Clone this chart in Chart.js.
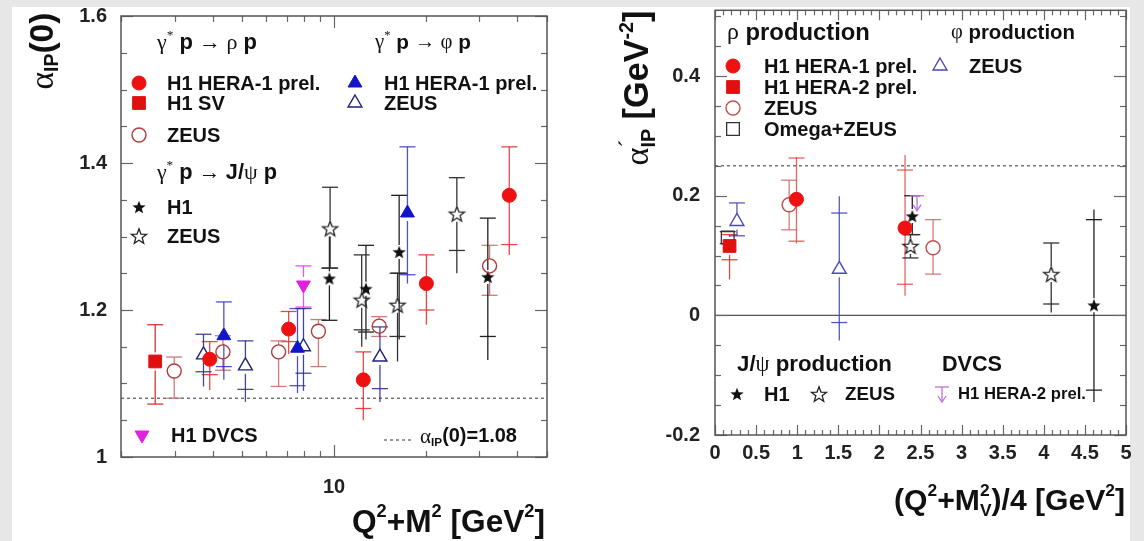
<!DOCTYPE html>
<html><head><meta charset="utf-8"><title>Pomeron trajectory parameters</title>
<script src="https://cdn.jsdelivr.net/npm/chart.js@4.4.1/dist/chart.umd.min.js"></script>
<style>
html,body{margin:0;padding:0;}
body{width:1144px;height:541px;background:#e7e7e7;position:relative;overflow:hidden}
#paper{position:absolute;left:12px;top:7px;width:1118px;height:534px;background:#fff}
canvas{position:absolute;top:0}
</style></head>
<body>
<div id="paper"></div>
<canvas id="cL" width="572" height="541" style="left:0px"></canvas>
<canvas id="cR" width="572" height="541" style="left:572px"></canvas>
<script>
// ================= DATA : left panel  alpha_IP(0) vs Q2+M2 =================
const leftXTicks  = [2,3,4,5,6,7,8,9,10,20,30,40,50];
const leftXLabels = ['10'];
const leftYLabels = ['1','1.2','1.4','1.6'];
const leftRef     = [1.08];

// gamma* p -> rho p : H1 HERA-1 prel.
const rhoH1_x   = [3.91, 7.10, 12.48, 20.1, 37.6];
const rhoH1_y   = [1.133, 1.174, 1.105, 1.236, 1.356];
const rhoH1_lo  = [1.091, 1.140, 1.050, 1.180, 1.275];
const rhoH1_hi  = [1.157, 1.198, 1.143, 1.275, 1.422];
const rhoH1_tlo = [1.112, 1.157, 1.066, 1.200, 1.289];
// gamma* p -> rho p : H1 SV
const rhoSV_x  = [2.59];
const rhoSV_y  = [1.130];
const rhoSV_lo = [1.072];
const rhoSV_hi = [1.180];
// gamma* p -> rho p : ZEUS
const rhoZ_x  = [2.99, 4.32, 6.58, 8.89, 14.07, 32.4];
const rhoZ_y  = [1.117, 1.143, 1.143, 1.171, 1.178, 1.260];
const rhoZ_lo = [1.080, 1.118, 1.096, 1.123, 1.164, 1.220];
const rhoZ_hi = [1.136, 1.165, 1.158, 1.187, 1.191, 1.288];
// gamma* p -> phi p : H1 HERA-1 prel.
const phiH1_x   = [4.35, 7.59, 17.42];
const phiH1_y   = [1.165, 1.148, 1.332];
const phiH1_lo  = [1.105, 1.087, 1.236];
const phiH1_hi  = [1.211, 1.202, 1.422];
const phiH1_tlo = [1.123, 1.097, 1.248];
// gamma* p -> phi p : ZEUS
const phiZ_x   = [3.73, 5.12, 7.94, 14.15];
const phiZ_y   = [1.139, 1.124, 1.150, 1.136];
const phiZ_lo  = [1.096, 1.075, 1.090, 1.075];
const phiZ_hi  = [1.167, 1.158, 1.202, 1.177];
const phiZ_tlo = [1.116, 1.092, 1.114, 1.093];
// gamma* p -> J/psi p : H1
const jpH1_x   = [9.66, 12.73, 16.36, 31.97];
const jpH1_y   = [1.243, 1.229, 1.279, 1.245];
const jpH1_lo  = [1.186, 1.160, 1.160, 1.132];
const jpH1_hi  = [1.300, 1.288, 1.356, 1.325];
const jpH1_tlo = [1.186, 1.170, 1.250, 1.164];
const jpH1_thi = [1.257, 1.288, 1.356, 1.325];
// gamma* p -> J/psi p : ZEUS
const jpZ_x   = [9.71, 12.33, 16.16, 25.3];
const jpZ_y   = [1.311, 1.214, 1.207, 1.331];
const jpZ_lo  = [1.257, 1.150, 1.130, 1.250];
const jpZ_hi  = [1.367, 1.275, 1.250, 1.380];
const jpZ_tlo = [1.257, 1.173, 1.164, 1.281];
// H1 DVCS
const dvcs_x  = [7.94];
const dvcs_y  = [1.234];
const dvcs_lo = [1.204];
const dvcs_hi = [1.260];

// ================= DATA : right panel  alpha'_IP vs (Q2+M2)/4 =================
const rightXLabels = ['0','0.5','1','1.5','2','2.5','3','3.5','4','4.5','5'];
const rightYLabels = ['-0.2','0','0.2','0.4'];
const rightDashed  = [0.25];
const rightSolid   = [0];

// rho : H1 HERA-1 prel.
const rRhoH1_x   = [0.991, 2.312];
const rRhoH1_y   = [0.194, 0.146];
const rRhoH1_lo  = [0.120, 0.033];
const rRhoH1_hi  = [0.265, 0.268];
const rRhoH1_tlo = [0.124, 0.052];
const rRhoH1_thi = [0.263, 0.243];
// rho : H1 HERA-2 prel.
const rRhoH2_x   = [0.177];
const rRhoH2_y   = [0.116];
const rRhoH2_lo  = [0.060];
const rRhoH2_hi  = [0.135];
const rRhoH2_tlo = [0.093];
// rho : ZEUS
const rRhoZ_x  = [0.902, 2.653];
const rRhoZ_y  = [0.185, 0.113];
const rRhoZ_lo = [0.143, 0.069];
const rRhoZ_hi = [0.226, 0.160];
// rho : Omega+ZEUS
const rOmZ_x  = [0.155];
const rOmZ_y  = [0.130];
const rOmZ_lo = [0.120];
const rOmZ_hi = [0.140];
// phi : ZEUS
const rPhiZ_x   = [0.267, 1.512];
const rPhiZ_y   = [0.157, 0.077];
const rPhiZ_lo  = [0.133, -0.042];
const rPhiZ_hi  = [0.188, 0.199];
const rPhiZ_tlo = [0.133, -0.012];
const rPhiZ_thi = [0.188, 0.171];
// J/psi : H1
const rJpH1_x   = [2.40, 4.61];
const rJpH1_y   = [0.166, 0.017];
const rJpH1_lo  = [0.135, -0.145];
const rJpH1_hi  = [0.200, 0.177];
const rJpH1_tlo = [0.135, -0.125];
const rJpH1_thi = [0.200, 0.160];
// J/psi : ZEUS
const rJpZ_x   = [2.378, 4.09];
const rJpZ_y   = [0.116, 0.069];
const rJpZ_lo  = [0.096, 0.005];
const rJpZ_hi  = [0.135, 0.121];
const rJpZ_tlo = [0.096, 0.019];
// DVCS : H1 HERA-2 prel. (upper limit)
const rDvcs_x = [2.458];
const rDvcs_y = [0.200];

// ================= helpers =================
const SANS  = '"Liberation Sans", Arial, Helvetica, sans-serif';
const SERIF = '"Liberation Serif", "DejaVu Serif", serif';
Chart.defaults.font.family = SANS;

const pts = (xs, ys) => xs.map((x, i) => ({x, y: ys[i]}));
const fmt = v => String(+(+v).toFixed(3));

function starImg(r, filled, color) {
  const s = Math.ceil(r * 2 + 4);
  const c = document.createElement('canvas'); c.width = s; c.height = s;
  const g = c.getContext('2d');
  g.translate(s / 2, s / 2 + r * 0.1);
  g.beginPath();
  for (let i = 0; i < 10; i++) {
    const rr = i % 2 ? r * 0.42 : r;
    const a = -Math.PI / 2 + i * Math.PI / 5;
    g.lineTo(rr * Math.cos(a), rr * Math.sin(a));
  }
  g.closePath();
  if (filled) { g.fillStyle = color; g.fill(); }
  else { g.lineWidth = 1.3; g.strokeStyle = color; g.stroke(); }
  return c;
}
const STAR_F = starImg(7, true, '#111');
const STAR_O = starImg(8, false, '#222');

// rich text: segments with own font/size/offset; optional fit-to-width
function rich(ctx, segs, x, y, o) {
  o = Object.assign({align: 'left', rot: 0, fit: 0, color: '#111'}, o || {});
  let k = 1;
  const font = s => `${s.w || 'bold'} ${(s.s * k).toFixed(2)}px ${s.f || SANS}`;
  const layout = () => {
    let cx = 0, prevX = 0, prevW = 0; const out = [];
    for (const s of segs) {
      ctx.font = font(s);
      const mw = ctx.measureText(s.t).width;
      if (s.stack) { out.push([s, prevX]); cx = Math.max(prevX + prevW, prevX + mw); prevW = Math.max(prevW, mw); }
      else { out.push([s, cx]); prevX = cx; prevW = mw; cx += mw; }
    }
    return {W: cx, out};
  };
  let L = layout();
  if (o.fit) { k = o.fit / L.W; L = layout(); }
  ctx.save();
  ctx.translate(x, y); ctx.rotate(o.rot);
  const off = o.align === 'center' ? -L.W / 2 : o.align === 'right' ? -L.W : 0;
  ctx.textBaseline = 'middle'; ctx.textAlign = 'left';
  for (const [s, sx] of L.out) {
    ctx.font = font(s); ctx.fillStyle = s.c || o.color;
    ctx.fillText(s.t, off + sx, (s.dy || 0) * k);
  }
  ctx.restore();
}
const B  = (t, s = 20) => ({t, s, w: 'bold', f: SANS});
const G  = (t, s = 20) => ({t, s, w: 'normal', f: SERIF});
const SP = (t, s = 12, dy = -8, w = 'bold', f = SANS) => ({t, s, dy, w, f});
const SB = (t, s = 12, dy = 6, stack = false) => ({t, s, dy, w: 'bold', f: SANS, stack});

function marker(ctx, ds, x, y) {
  ctx.save();
  ctx.fillStyle = ds.pointBackgroundColor; ctx.strokeStyle = ds.pointBorderColor;
  ctx.lineWidth = ds.pointBorderWidth;
  Chart.helpers.drawPoint(ctx, {pointStyle: ds.pointStyle, radius: ds.pointRadius,
    rotation: ds.pointRotation || 0, borderWidth: ds.pointBorderWidth}, x, y);
  ctx.restore();
}
function limitMark(ctx, x, yTop, color) {
  ctx.save(); ctx.strokeStyle = color; ctx.fillStyle = color; ctx.lineWidth = 1.3;
  ctx.beginPath(); ctx.moveTo(x - 7, yTop); ctx.lineTo(x + 7, yTop); ctx.stroke();
  ctx.beginPath(); ctx.moveTo(x, yTop); ctx.lineTo(x, yTop + 14); ctx.stroke();
  ctx.beginPath(); ctx.moveTo(x - 4, yTop + 9); ctx.lineTo(x, yTop + 15); ctx.lineTo(x + 4, yTop + 9); ctx.stroke();
  ctx.restore();
}

// error bars + upper limits + reference lines (drawn under markers)
const errPlugin = {
  id: 'errbars',
  beforeDatasetsDraw(chart, args, o) {
    const {ctx, chartArea: a, scales: {x, y}} = chart;
    ctx.save();
    (o.dashed || []).forEach(v => {
      const p = y.getPixelForValue(v);
      ctx.strokeStyle = '#333'; ctx.lineWidth = 1; ctx.setLineDash([3, 3]);
      ctx.beginPath(); ctx.moveTo(a.left, p); ctx.lineTo(a.right, p); ctx.stroke();
    });
    ctx.setLineDash([]);
    (o.solid || []).forEach(v => {
      const p = y.getPixelForValue(v);
      ctx.strokeStyle = '#555'; ctx.lineWidth = 1.3;
      ctx.beginPath(); ctx.moveTo(a.left, p); ctx.lineTo(a.right, p); ctx.stroke();
    });
    chart.data.datasets.forEach(ds => {
      const e = ds.err; if (!e) return;
      ctx.strokeStyle = e.color; ctx.lineWidth = 1.3;
      ds.data.forEach((p, i) => {
        const px = x.getPixelForValue(p.x), py = y.getPixelForValue(p.y);
        if (e.limit) { limitMark(ctx, px, py, e.color); return; }
        const gap = ds.pointRadius;
        const seg = (a1, b1) => { if (b1 - a1 > 0.5) { ctx.beginPath(); ctx.moveTo(px, a1); ctx.lineTo(px, b1); ctx.stroke(); } };
        seg(y.getPixelForValue(e.hi[i]), py - gap);
        seg(py + gap, y.getPixelForValue(e.lo[i]));
        const tk = v => { const q = y.getPixelForValue(v); ctx.beginPath(); ctx.moveTo(px - 8, q); ctx.lineTo(px + 8, q); ctx.stroke(); };
        tk((e.thi || e.hi)[i]); tk((e.tlo || e.lo)[i]);
      });
    });
    ctx.restore();
  }
};

// frame + inward ticks on all four sides
const framePlugin = {
  id: 'frame',
  afterDatasetsDraw(chart, args, o) {
    const {ctx, chartArea: a, scales: {x, y}} = chart;
    ctx.save(); ctx.strokeStyle = '#666'; ctx.lineWidth = 1.2;
    const ln = (x1, y1, x2, y2) => { ctx.beginPath(); ctx.moveTo(x1, y1); ctx.lineTo(x2, y2); ctx.stroke(); };
    y.ticks.forEach(t => {
      const p = Math.round(y.getPixelForValue(t.value)) + 0.5;
      const L = t.label ? o.yMajor : o.yMinor;
      ln(a.left, p, a.left + L, p); ln(a.right, p, a.right - L, p);
    });
    x.ticks.forEach(t => {
      const p = Math.round(x.getPixelForValue(t.value)) + 0.5;
      const L = t.label ? o.xMajor : o.xMinor;
      ln(p, a.bottom, p, a.bottom - L); ln(p, a.top, p, a.top + L);
    });
    ctx.lineWidth = 1.5; ctx.strokeStyle = '#555';
    ctx.strokeRect(a.left, a.top, a.right - a.left, a.bottom - a.top);
    ctx.restore();
  }
};

const tickFont = {family: SANS, size: 20, weight: 'bold'};
const baseOpts = (pad) => ({
  responsive: false, animation: false, events: [],
  layout: {padding: pad},
  plugins: {legend: {display: false}, tooltip: {enabled: false}}
});
const fitY = w => s => { s.width = w; s.paddingTop = 0; s.paddingBottom = 0; };
const fitX = h => s => { s.height = h; s.paddingLeft = 0; s.paddingRight = 0; };

// ================= LEFT CHART =================
const dsL = [
  {label: 'rho H1 HERA-1 prel.', data: pts(rhoH1_x, rhoH1_y), pointStyle: 'circle', pointRadius: 7,
   pointBackgroundColor: '#ee1111', pointBorderColor: '#ee1111', pointBorderWidth: 1,
   err: {lo: rhoH1_lo, hi: rhoH1_hi, tlo: rhoH1_tlo, color: 'rgba(225,40,40,0.85)'}},
  {label: 'rho H1 SV', data: pts(rhoSV_x, rhoSV_y), pointStyle: 'rect', pointRadius: 9,
   pointBackgroundColor: '#e01010', pointBorderColor: '#e01010', pointBorderWidth: 1,
   err: {lo: rhoSV_lo, hi: rhoSV_hi, color: 'rgba(215,30,30,0.9)'}},
  {label: 'rho ZEUS', data: pts(rhoZ_x, rhoZ_y), pointStyle: 'circle', pointRadius: 7,
   pointBackgroundColor: 'rgba(255,255,255,0)', pointBorderColor: '#b03a3a', pointBorderWidth: 1.4,
   err: {lo: rhoZ_lo, hi: rhoZ_hi, color: 'rgba(200,110,110,0.9)'}},
  {label: 'phi H1 HERA-1 prel.', data: pts(phiH1_x, phiH1_y), pointStyle: 'triangle', pointRadius: 8,
   pointBackgroundColor: '#1414c8', pointBorderColor: '#1414c8', pointBorderWidth: 1,
   err: {lo: phiH1_lo, hi: phiH1_hi, tlo: phiH1_tlo, color: 'rgba(50,50,200,0.85)'}},
  {label: 'phi ZEUS', data: pts(phiZ_x, phiZ_y), pointStyle: 'triangle', pointRadius: 8,
   pointBackgroundColor: 'rgba(255,255,255,0)', pointBorderColor: '#20207e', pointBorderWidth: 1.4,
   err: {lo: phiZ_lo, hi: phiZ_hi, tlo: phiZ_tlo, color: 'rgba(50,50,140,0.9)'}},
  {label: 'J/psi H1', data: pts(jpH1_x, jpH1_y), pointStyle: STAR_F, pointRadius: 7,
   pointBackgroundColor: '#111', pointBorderColor: '#111', pointBorderWidth: 0,
   err: {lo: jpH1_lo, hi: jpH1_hi, tlo: jpH1_tlo, thi: jpH1_thi, color: '#222'}},
  {label: 'J/psi ZEUS', data: pts(jpZ_x, jpZ_y), pointStyle: STAR_O, pointRadius: 8,
   pointBackgroundColor: '#fff', pointBorderColor: '#222', pointBorderWidth: 0,
   err: {lo: jpZ_lo, hi: jpZ_hi, tlo: jpZ_tlo, color: '#333'}},
  {label: 'H1 DVCS', data: pts(dvcs_x, dvcs_y), pointStyle: 'triangle', pointRotation: 180, pointRadius: 8,
   pointBackgroundColor: '#e020e0', pointBorderColor: '#e020e0', pointBorderWidth: 1,
   err: {lo: dvcs_lo, hi: dvcs_hi, color: 'rgba(220,60,220,0.85)'}}
];

const legendL = {
  id: 'legendL',
  afterDraw(chart) {
    const ctx = chart.ctx, d = chart.data.datasets;
    const hdr = (greek, x, y, w) => rich(ctx, [G('γ', 18), SP('*', 11, -6, 'normal', SERIF), B(' p ', 18), G('→ ', 18)].concat(greek, [B(' p', 18)]), x, y, {fit: w});
    hdr([G('ρ', 18)], 157, 43, 100);
    hdr([G('φ', 18)], 375, 43, 96);
    hdr([B('J/', 18), G('ψ', 18)], 157, 173, 120);
    const ent = (di, mx, tx, y, txt) => { marker(ctx, d[di], mx, y); rich(ctx, [B(txt, 20)], tx, y + 1); };
    ent(0, 139, 167, 83, 'H1 HERA-1 prel.');
    ent(1, 139, 167, 103, 'H1 SV');
    ent(2, 139, 167, 135, 'ZEUS');
    ent(5, 139, 167, 207, 'H1');
    ent(6, 139, 167, 236, 'ZEUS');
    ent(3, 355, 384, 83, 'H1 HERA-1 prel.');
    ent(4, 355, 384, 103, 'ZEUS');
    ent(7, 142, 171, 435, 'H1 DVCS');
    ctx.save(); ctx.strokeStyle = '#333'; ctx.lineWidth = 1; ctx.setLineDash([3, 3]);
    ctx.beginPath(); ctx.moveTo(384, 440); ctx.lineTo(412, 440); ctx.stroke(); ctx.restore();
    rich(ctx, [G('α', 18), SB('IP', 10, 5), B('(0)=1.08', 17)], 420, 437, {fit: 97});
    // axis titles
    rich(ctx, [G('α', 26), SB('IP', 15, 7), B('(0)', 26)], 44, 51, {rot: -Math.PI / 2, align: 'center', fit: 77});
    rich(ctx, [B('Q', 26), SP('2', 15, -9), B('+M', 26), SP('2', 15, -9), B(' [GeV', 26), SP('2', 15, -9), B(']', 26)],
         545, 523, {align: 'right', fit: 193});
  }
};

new Chart(document.getElementById('cL'), {
  type: 'scatter',
  data: {datasets: dsL},
  options: Object.assign(baseOpts({top: 16, right: 25, left: 0, bottom: 0}), {
    scales: {
      x: {type: 'logarithmic', min: 2, max: 50,
          afterFit: fitX(84),
          afterBuildTicks: s => { s.ticks = leftXTicks.map(v => ({value: v})); },
          grid: {display: false, drawTicks: false}, border: {display: false},
          ticks: {autoSkip: false, maxRotation: 0, padding: 18, color: '#222', font: tickFont,
                  callback: v => leftXLabels.includes(fmt(v)) ? fmt(v) : ''}},
      y: {min: 1, max: 1.6,
          afterFit: fitY(121),
          grid: {display: false, drawTicks: false}, border: {display: false},
          ticks: {stepSize: 0.05, autoSkip: false, padding: 14, color: '#222', font: tickFont,
                  callback: v => leftYLabels.includes(fmt(v)) ? fmt(v) : ''}}
    },
    plugins: {legend: {display: false}, tooltip: {enabled: false},
              errbars: {dashed: leftRef},
              frame: {yMajor: 12, yMinor: 6, xMajor: 12, xMinor: 6}}
  }),
  plugins: [errPlugin, framePlugin, legendL]
});

// ================= RIGHT CHART =================
const dsR = [
  {label: 'rho H1 HERA-1 prel.', data: pts(rRhoH1_x, rRhoH1_y), pointStyle: 'circle', pointRadius: 7,
   pointBackgroundColor: '#ee1111', pointBorderColor: '#ee1111', pointBorderWidth: 1,
   err: {lo: rRhoH1_lo, hi: rRhoH1_hi, tlo: rRhoH1_tlo, thi: rRhoH1_thi, color: 'rgba(225,60,60,0.8)'}},
  {label: 'rho H1 HERA-2 prel.', data: pts(rRhoH2_x, rRhoH2_y), pointStyle: 'rect', pointRadius: 9,
   pointBackgroundColor: '#e01010', pointBorderColor: '#e01010', pointBorderWidth: 1,
   err: {lo: rRhoH2_lo, hi: rRhoH2_hi, tlo: rRhoH2_tlo, color: 'rgba(215,40,40,0.85)'}},
  {label: 'rho ZEUS', data: pts(rRhoZ_x, rRhoZ_y), pointStyle: 'circle', pointRadius: 7,
   pointBackgroundColor: 'rgba(255,255,255,0)', pointBorderColor: '#c05050', pointBorderWidth: 1.4,
   err: {lo: rRhoZ_lo, hi: rRhoZ_hi, color: 'rgba(210,110,110,0.9)'}},
  {label: 'Omega+ZEUS', data: pts(rOmZ_x, rOmZ_y), pointStyle: 'rect', pointRadius: 9,
   pointBackgroundColor: 'rgba(255,255,255,0)', pointBorderColor: '#333', pointBorderWidth: 1.3,
   err: {lo: rOmZ_lo, hi: rOmZ_hi, color: '#444'}},
  {label: 'phi ZEUS', data: pts(rPhiZ_x, rPhiZ_y), pointStyle: 'triangle', pointRadius: 8,
   pointBackgroundColor: 'rgba(255,255,255,0)', pointBorderColor: '#4a4ab8', pointBorderWidth: 1.4,
   err: {lo: rPhiZ_lo, hi: rPhiZ_hi, tlo: rPhiZ_tlo, thi: rPhiZ_thi, color: 'rgba(70,70,180,0.9)'}},
  {label: 'J/psi H1', data: pts(rJpH1_x, rJpH1_y), pointStyle: STAR_F, pointRadius: 7,
   pointBackgroundColor: '#111', pointBorderColor: '#111', pointBorderWidth: 0,
   err: {lo: rJpH1_lo, hi: rJpH1_hi, tlo: rJpH1_tlo, thi: rJpH1_thi, color: '#222'}},
  {label: 'J/psi ZEUS', data: pts(rJpZ_x, rJpZ_y), pointStyle: STAR_O, pointRadius: 8,
   pointBackgroundColor: '#fff', pointBorderColor: '#222', pointBorderWidth: 0,
   err: {lo: rJpZ_lo, hi: rJpZ_hi, tlo: rJpZ_tlo, color: '#333'}},
  {label: 'DVCS H1 HERA-2 prel.', data: pts(rDvcs_x, rDvcs_y), pointRadius: 0,
   pointBackgroundColor: '#c070e0', pointBorderColor: '#c070e0', pointBorderWidth: 0,
   err: {limit: true, color: '#c070e0'}}
];

const legendR = {
  id: 'legendR',
  afterDraw(chart) {
    const ctx = chart.ctx, d = chart.data.datasets;
    rich(ctx, [G('ρ', 22), B(' production', 22)], 155, 33, {fit: 143});
    rich(ctx, [G('φ', 22), B(' production', 22)], 379, 33, {fit: 124});
    const ent = (di, mx, tx, y, txt, w) => { marker(ctx, d[di], mx, y); rich(ctx, [B(txt, 20)], tx, y + 1, w ? {fit: w} : {}); };
    ent(0, 161, 192, 66, 'H1 HERA-1 prel.');
    ent(1, 161, 192, 87, 'H1 HERA-2 prel.');
    ent(2, 161, 192, 108, 'ZEUS');
    ent(3, 161, 192, 129, 'Omega+ZEUS');
    ent(4, 368, 397, 66, 'ZEUS');
    rich(ctx, [B('J/', 22), G('ψ', 22), B(' production', 22)], 165, 365, {fit: 155});
    rich(ctx, [B('DVCS', 22)], 370, 365, {fit: 60});
    ent(5, 165, 192, 394, 'H1');
    ent(6, 247, 273, 394, 'ZEUS', 50);
    limitMark(ctx, 370, 387, d[7].pointBorderColor);
    rich(ctx, [B('H1 HERA-2 prel.', 17)], 386, 394, {fit: 128});
    // axis titles
    rich(ctx, [G('α', 26), SP('´', 18, -8, 'normal', SERIF), SB('IP', 15, 8, true), B(' [GeV', 26), SP('-2', 15, -9), B(']', 26)],
         67, 88, {rot: -Math.PI / 2, align: 'center', fit: 155});
    rich(ctx, [B('(Q', 26), SP('2', 15, -9), B('+M', 26), SP('2', 15, -9), SB('V', 15, 8, true), B(')/4 [GeV', 26), SP('2', 15, -9), B(']', 26)],
         553, 502, {align: 'right', fit: 231});
  }
};

new Chart(document.getElementById('cR'), {
  type: 'scatter',
  data: {datasets: dsR},
  options: Object.assign(baseOpts({top: 8, right: 18, left: 0, bottom: 0}), {
    scales: {
      x: {min: 0, max: 5,
          afterFit: fitX(106),
          grid: {display: false, drawTicks: false}, border: {display: false},
          ticks: {stepSize: 0.1, autoSkip: false, maxRotation: 0, padding: 6, color: '#222', font: tickFont,
                  callback: v => rightXLabels.includes(fmt(v)) ? fmt(v) : ''}},
      y: {min: -0.2, max: 0.51,
          afterFit: fitY(143),
          grid: {display: false, drawTicks: false}, border: {display: false},
          ticks: {stepSize: 0.05, includeBounds: false, autoSkip: false, padding: 15, color: '#222', font: tickFont,
                  callback: v => rightYLabels.includes(fmt(v)) ? fmt(v) : ''}}
    },
    plugins: {legend: {display: false}, tooltip: {enabled: false},
              errbars: {dashed: rightDashed, solid: rightSolid},
              frame: {yMajor: 12, yMinor: 6, xMajor: 10, xMinor: 5}}
  }),
  plugins: [errPlugin, framePlugin, legendR]
});
</script>
</body></html>
